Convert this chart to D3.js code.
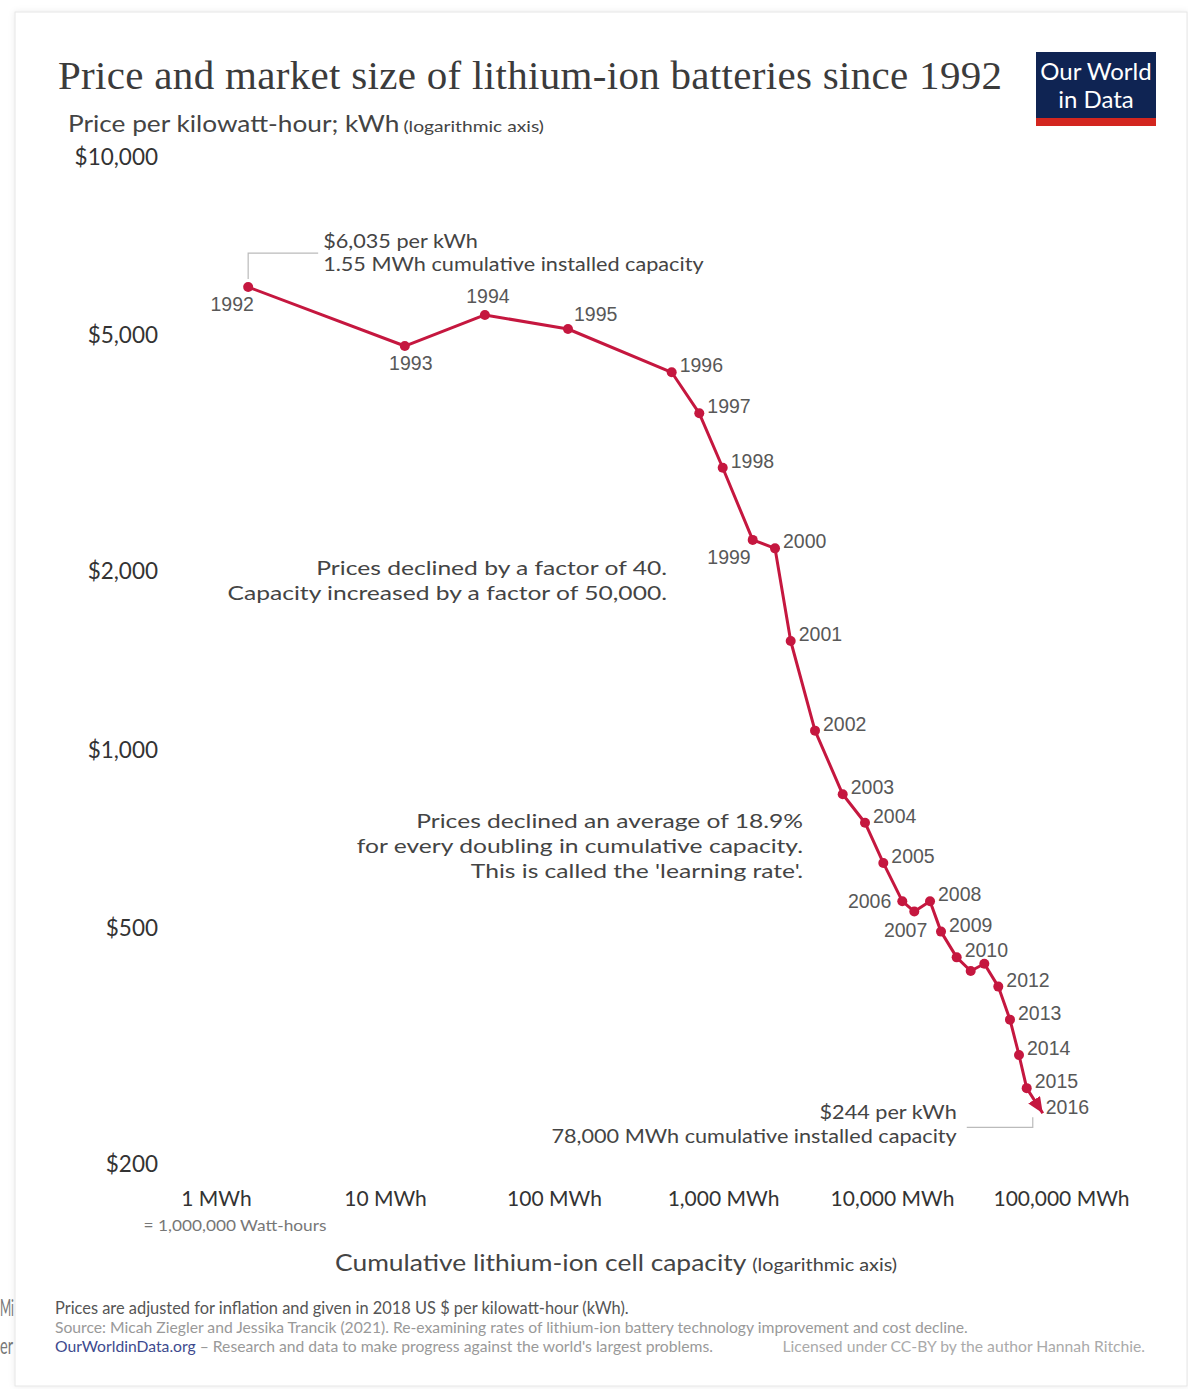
<!DOCTYPE html>
<html>
<head>
<meta charset="utf-8">
<script src="https://cdn.jsdelivr.net/npm/d3@7"></script>
<style>
  body { margin: 0; background: #fff; }
  svg { display: block; }
</style>
</head>
<body>
<svg id="chart" width="1188" height="1389"></svg>
<script>
// Cumulative installed lithium-ion cell capacity (MWh) and price (2018 US$ per kWh)
const pointLabels = ["1992","1993","1994","1995","1996","1997","1998","1999","2000","2001",
  "2002","2003","2004","2005","2006","2007","2008","2009","2010","","","2012","2013","2014","2015","2016"];
const capacityMWh = [1.55, 13.1, 39, 121, 497, 724, 996, 1499, 2031, 2515,
  3503, 5109, 6921, 8882, 11507, 13552, 16788, 19498, 24140, 29220, 35180, 42560, 49900, 56430, 62660, 78000];
const pricePerKWh = [6035, 4800, 5415, 5128, 4335, 3696, 2992, 2261, 2188, 1527,
  1078, 842, 754, 645, 556, 534, 556, 494, 447, 424, 436, 399, 351, 306, 269, 244];

const priceTicks = [10000, 5000, 2000, 1000, 500, 200];
const priceTickLabels = ["$10,000", "$5,000", "$2,000", "$1,000", "$500", "$200"];
const capacityTicks = [1, 10, 100, 1000, 10000, 100000];
const capacityTickLabels = ["1 MWh", "10 MWh", "100 MWh", "1,000 MWh", "10,000 MWh", "100,000 MWh"];

const points = capacityMWh.map((c, i) => ({ c, p: pricePerKWh[i], label: pointLabels[i] }));

const svg = d3.select("#chart");
const LINE = "#c5173f";
const SANS = "Lato, 'Open Sans', sans-serif";

// text helper: k > 1 widens the glyphs horizontally
function addText(parent, o) {
  const t = parent.append("text").attr("x", o.x).attr("y", o.y)
    .attr("font-family", o.family || SANS).attr("font-size", o.size)
    .attr("fill", o.fill || "#444").attr("text-anchor", o.anchor || "start").text(o.text);
  if (o.k && o.k !== 1) {
    const w = t.node().getComputedTextLength();
    t.attr("textLength", w * o.k).attr("lengthAdjust", "spacingAndGlyphs");
  }
  return t;
}
const widthOf = t => +(t.attr("textLength") || t.node().getComputedTextLength());

// fragments of page text beside the card
svg.append("text").attr("x", 0).attr("y", 1316).attr("font-family", SANS).attr("font-size", 23)
  .attr("textLength", 14).attr("lengthAdjust", "spacingAndGlyphs").attr("fill", "#777").text("Mi");
svg.append("text").attr("x", 0).attr("y", 1354).attr("font-family", SANS).attr("font-size", 23)
  .attr("textLength", 13).attr("lengthAdjust", "spacingAndGlyphs").attr("fill", "#777").text("er");

// card outline
const defs = svg.append("defs");
defs.append("filter").attr("id", "shadow")
  .append("feDropShadow").attr("dx", 0).attr("dy", 0).attr("stdDeviation", 3)
  .attr("flood-color", "#000").attr("flood-opacity", 0.08);
svg.append("rect").attr("x", 15).attr("y", 12).attr("width", 1172).attr("height", 1374)
  .attr("fill", "#fff").attr("stroke", "#e6e6e6").attr("filter", "url(#shadow)");

// scales
const x = d3.scaleLog().domain([1, 100000]).range([216, 1061]);
const y = d3.scaleLog().domain([10000, 200]).range([157, 157 + 593 * Math.log10(50)]);

// title and subtitle
svg.append("text").attr("x", 58).attr("y", 89)
  .attr("font-family", "'Liberation Serif', 'DejaVu Serif', serif").attr("font-size", 41)
  .attr("textLength", 944).attr("lengthAdjust", "spacing")
  .attr("fill", "#3b3b3b").text("Price and market size of lithium-ion batteries since 1992");

const subMain = addText(svg, { x: 68, y: 132, text: "Price per kilowatt-hour; kWh", size: 23, k: 1.14 });
addText(svg, { x: 68 + widthOf(subMain) + 4, y: 132, text: "(logarithmic axis)", size: 16, k: 1.2 });

// logo
const logo = svg.append("g");
logo.append("rect").attr("x", 1036).attr("y", 52).attr("width", 120).attr("height", 74).attr("fill", "#0f2453");
logo.append("rect").attr("x", 1036).attr("y", 118).attr("width", 120).attr("height", 8).attr("fill", "#d3261f");
logo.append("text").attr("x", 1096).attr("y", 80).attr("text-anchor", "middle")
  .attr("font-family", SANS).attr("font-size", 24).attr("fill", "#fff").text("Our World");
logo.append("text").attr("x", 1096).attr("y", 108).attr("text-anchor", "middle")
  .attr("font-family", SANS).attr("font-size", 24).attr("fill", "#fff").text("in Data");

// y axis
const yAxis = svg.append("g").attr("transform", "translate(158,0)")
  .call(d3.axisLeft(y).tickValues(priceTicks)
    .tickFormat((d, i) => priceTickLabels[i]).tickSize(0).tickPadding(0));
yAxis.select(".domain").remove();
yAxis.selectAll("text").attr("font-family", SANS).attr("font-size", 22.5).attr("fill", "#333");

// x axis
const xAxis = svg.append("g").attr("transform", "translate(0,1191)")
  .call(d3.axisBottom(x).tickValues(capacityTicks)
    .tickFormat((d, i) => capacityTickLabels[i]).tickSize(0).tickPadding(0));
xAxis.select(".domain").remove();
xAxis.selectAll("text").attr("font-family", SANS).attr("font-size", 21).attr("fill", "#333");

addText(svg, { x: x(1) + 19, y: 1231, text: "= 1,000,000 Watt-hours", size: 15, k: 1.15, anchor: "middle", fill: "#777" });

const xtMain = addText(svg, { x: 335, y: 1271, text: "Cumulative lithium-ion cell capacity", size: 24, k: 1.1 });
addText(svg, { x: 335 + widthOf(xtMain) + 6, y: 1271, text: "(logarithmic axis)", size: 16.5, k: 1.2 });

// arrowhead for the last segment
defs.append("marker").attr("id", "arrow")
  .attr("viewBox", "0 0 16 14").attr("refX", 16).attr("refY", 7)
  .attr("markerWidth", 16).attr("markerHeight", 14).attr("markerUnits", "userSpaceOnUse")
  .attr("orient", "auto")
  .append("path").attr("d", "M0,0 L16,7 L0,14 Z").attr("fill", LINE);

// series line
const line = d3.line().x(d => x(d.c)).y(d => y(d.p));
svg.append("path").datum(points).attr("d", line)
  .attr("fill", "none").attr("stroke", LINE).attr("stroke-width", 3)
  .attr("stroke-linejoin", "round").attr("marker-end", "url(#arrow)");

svg.append("g").selectAll("circle").data(points.slice(0, -1)).join("circle")
  .attr("cx", d => x(d.c)).attr("cy", d => y(d.p)).attr("r", 5).attr("fill", LINE);

// year labels; most sit to the right of their point
const placement = {
  "1992": { anchor: "middle", dx: -16, dy: 24 },
  "1993": { anchor: "middle", dx: 6, dy: 24 },
  "1994": { anchor: "middle", dx: 3, dy: -12 },
  "1995": { anchor: "start", dx: 6, dy: -8 },
  "1999": { anchor: "end", dx: -2, dy: 24 },
  "2006": { anchor: "end", dx: -11, dy: 7 },
  "2007": { anchor: "end", dx: 13, dy: 25 },
  "2016": { anchor: "start", dx: 3, dy: 1 }
};
svg.append("g").selectAll("text").data(points.filter(d => d.label)).join("text")
  .attr("x", d => x(d.c) + (placement[d.label] ? placement[d.label].dx : 8))
  .attr("y", d => y(d.p) + (placement[d.label] ? placement[d.label].dy : 0))
  .attr("text-anchor", d => placement[d.label] ? placement[d.label].anchor : "start")
  .attr("font-family", "'Liberation Sans', Arial, sans-serif").attr("font-size", 19.5)
  .attr("fill", "#585858").text(d => d.label);

// start and end callouts
const first = points[0], last = points[points.length - 1];
const fx = x(first.c), fy = y(first.p);
svg.append("path").attr("d", `M${fx},${fy - 8}V${fy - 34}H${fx + 70}`)
  .attr("fill", "none").attr("stroke", "#bbb").attr("stroke-width", 1.2);
addText(svg, { x: fx + 75, y: fy - 39, text: `$${d3.format(",")(first.p)} per kWh`, size: 18.5, k: 1.17 });
addText(svg, { x: fx + 75, y: fy - 16, text: `${first.c} MWh cumulative installed capacity`, size: 18.5, k: 1.17 });

const lx = x(last.c), ly = y(last.p);
svg.append("path").attr("d", `M${lx - 10},${ly + 4}V${ly + 14}H${lx - 76}`)
  .attr("fill", "none").attr("stroke", "#bbb").attr("stroke-width", 1.2);
addText(svg, { x: lx - 86, y: ly + 6, text: `$${last.p} per kWh`, size: 18.5, k: 1.17, anchor: "end" });
addText(svg, { x: lx - 86, y: ly + 30, text: `${d3.format(",")(last.c)} MWh cumulative installed capacity`, size: 18.5, k: 1.17, anchor: "end" });

// narrative notes
const notes = [
  { x: 667, y: 575, lines: ["Prices declined by a factor of 40.", "Capacity increased by a factor of 50,000."] },
  { x: 803, y: 828, lines: ["Prices declined an average of 18.9%", "for every doubling in cumulative capacity.", "This is called the 'learning rate'."] }
];
notes.forEach(n => {
  n.lines.forEach((s, i) => addText(svg, { x: n.x, y: n.y + i * 25, text: s, size: 20, k: 1.23, anchor: "end" }));
});

// footer
svg.append("text").attr("x", 55).attr("y", 1314).attr("font-family", SANS).attr("font-size", 16.4)
  .attr("fill", "#555").text("Prices are adjusted for inflation and given in 2018 US $ per kilowatt-hour (kWh).");
svg.append("text").attr("x", 55).attr("y", 1333).attr("font-family", SANS).attr("font-size", 15.7)
  .attr("fill", "#999").text("Source: Micah Ziegler and Jessika Trancik (2021). Re-examining rates of lithium-ion battery technology improvement and cost decline.");
const f3 = svg.append("text").attr("x", 55).attr("y", 1352).attr("font-family", SANS).attr("font-size", 15.7)
  .attr("fill", "#999");
f3.append("tspan").attr("fill", "#3d4a8e").text("OurWorldinData.org");
f3.append("tspan").text(" – Research and data to make progress against the world's largest problems.");
svg.append("text").attr("x", 1145).attr("y", 1352).attr("text-anchor", "end")
  .attr("font-family", SANS).attr("font-size", 15.7).attr("fill", "#aaa")
  .text("Licensed under CC-BY by the author Hannah Ritchie.");
</script>
</body>
</html>
